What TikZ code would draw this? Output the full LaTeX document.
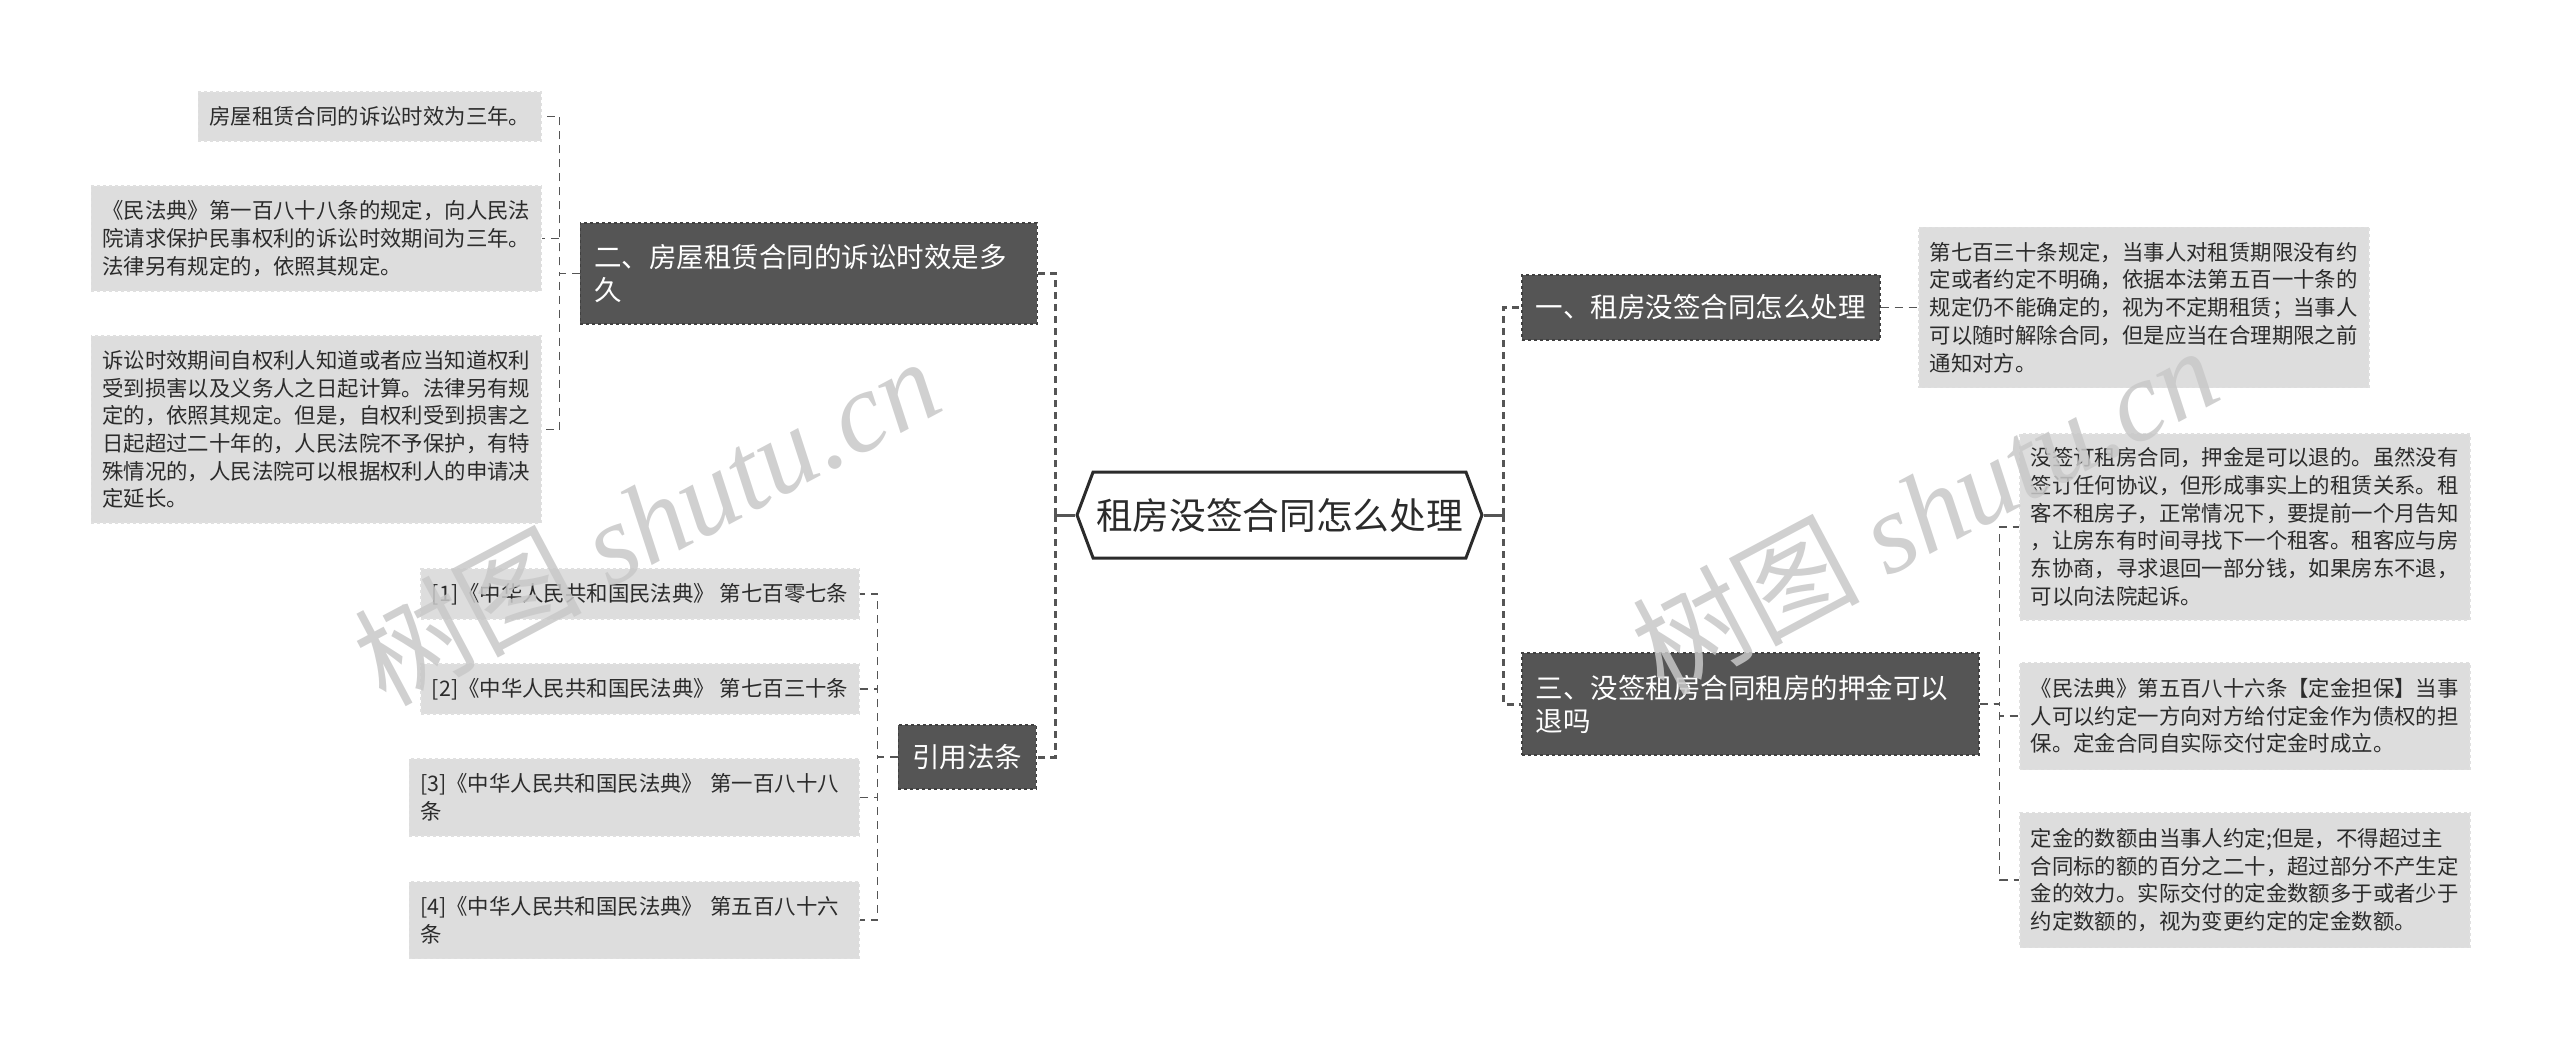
\documentclass[tikz,border=0pt]{standalone}
\usepackage{fontspec}
\setmainfont{Noto Sans CJK SC}
\newfontfamily\latinserif{Liberation Serif}
\usetikzlibrary{shapes.symbols}
\definecolor{fondbranche}{HTML}{555555}
\definecolor{fondfeuille}{HTML}{DDDDDD}
\definecolor{texte}{HTML}{2B2B2B}
\definecolor{trait}{HTML}{555555}
\definecolor{filig}{HTML}{C8C8C8}
\tikzstyle{racine}=[shape=signal,signal to=west and east,signal pointer angle=139,
draw=texte,line width=3pt,fill=white,text=texte,
font=\fontsize{36.7pt}{44pt}\selectfont,minimum width=405pt,minimum height=86pt,inner sep=0pt]
\tikzstyle{branche}=[rectangle,draw=black!75,dashed,line width=1.5pt,
fill=fondbranche,text=white,font=\fontsize{27.5pt}{33pt}\selectfont,
align=left,inner xsep=14pt,inner ysep=0pt]
\tikzstyle{feuille}=[rectangle,draw=white!88!black,dashed,line width=1.5pt,
fill=fondfeuille,text=texte,font=\fontsize{21.4pt}{27.7pt}\selectfont,
align=left,inner xsep=11pt,inner ysep=0pt]
\tikzstyle{tronc}=[draw=trait,line width=3pt]
\tikzstyle{pointille}=[dash pattern=on 7pt off 5pt]
\tikzstyle{lien}=[draw=trait,line width=1.8pt,dash pattern=on 8pt off 6pt]
\tikzstyle{filigrane}=[text=filig,text opacity=0.85,font=\fontsize{114pt}{114pt}\selectfont,rotate=28]

\begin{document}
\begin{tikzpicture}[x=1pt,y=-1pt]
\useasboundingbox (0,0) rectangle (2560,1051);
\node[racine] (R) at (1279.5,515) {租房没签合同怎么处理};

\node[branche,anchor=east,text width=429pt,minimum height=101pt] (B2) at (1038,273.5) {二、房屋租赁合同的诉讼时效是多\\久};
\node[feuille,anchor=east,minimum height=49pt] (L1) at (542,116.5) {房屋租赁合同的诉讼时效为三年。};
\node[feuille,anchor=east,minimum height=105pt] (L2) at (542,238.5) {《民法典》第一百八十八条的规定，向人民法\\院请求保护民事权利的诉讼时效期间为三年。\\法律另有规定的，依照其规定。};
\node[feuille,anchor=east,minimum height=187pt] (L3) at (542,429.5) {诉讼时效期间自权利人知道或者应当知道权利\\受到损害以及义务人之日起计算。法律另有规\\定的，依照其规定。但是，自权利受到损害之\\日起超过二十年的，人民法院不予保护，有特\\殊情况的，人民法院可以根据权利人的申请决\\定延长。};

\node[branche,anchor=east,minimum height=64pt] (C) at (1037,757) {引用法条};
\node[feuille,anchor=east,minimum height=50pt] (C1) at (860,594) {[1]《中华人民共和国民法典》 第七百零七条};
\node[feuille,anchor=east,minimum height=50pt] (C2) at (860,689) {[2]《中华人民共和国民法典》 第七百三十条};
\node[feuille,anchor=east,text width=428pt,minimum height=77pt] (C3) at (860,797.5) {[3]《中华人民共和国民法典》 第一百八十八\\条};
\node[feuille,anchor=east,text width=428pt,minimum height=77pt] (C4) at (860,920) {[4]《中华人民共和国民法典》 第五百八十六\\条};

\node[branche,anchor=west,minimum height=65pt] (B1) at (1521,307.5) {一、租房没签合同怎么处理};
\node[feuille,anchor=west,minimum height=160pt] (R1) at (1918,307.5) {第七百三十条规定，当事人对租赁期限没有约\\定或者约定不明确，依据本法第五百一十条的\\规定仍不能确定的，视为不定期租赁；当事人\\可以随时解除合同，但是应当在合理期限之前\\通知对方。};

\node[branche,anchor=west,text width=429pt,minimum height=102pt] (B3) at (1521,704) {三、没签租房合同租房的押金可以\\退吗};
\node[feuille,anchor=west,minimum height=186pt] (R2) at (2019,527) {没签订租房合同，押金是可以退的。虽然没有\\签订任何协议，但形成事实上的租赁关系。租\\客不租房子，正常情况下，要提前一个月告知\\，让房东有时间寻找下一个租客。租客应与房\\东协商，寻求退回一部分钱，如果房东不退，\\可以向法院起诉。};
\node[feuille,anchor=west,minimum height=107pt] (R3) at (2019,716) {《民法典》第五百八十六条【定金担保】当事\\人可以约定一方向对方给付定金作为债权的担\\保。定金合同自实际交付定金时成立。};
\node[feuille,anchor=west,minimum height=135pt] (R4) at (2019,880) {定金的数额由当事人约定;但是，不得超过主\\合同标的额的百分之二十，超过部分不产生定\\金的效力。实际交付的定金数额多于或者少于\\约定数额的，视为变更约定的定金数额。};

\draw[tronc] (R.west)--++(-20,0) coordinate (RG);
\draw[tronc] (R.east)--++(20,0) coordinate (RD);
\draw[tronc,pointille] (RG) |- (B2.east);
\draw[tronc,pointille] (RG) |- (C.east);
\draw[tronc,pointille] (RD) |- (B1.west);
\draw[tronc,pointille] (RD) |- (B3.west);

\draw[lien] (B2.west)--++(-20,0) |- (L1.east);
\draw[lien] (B2.west)--++(-20,0) |- (L2.east);
\draw[lien] (B2.west)--++(-20,0) |- (L3.east);
\draw[lien] (C.west)--++(-20,0) |- (C1.east);
\draw[lien] (C.west)--++(-20,0) |- (C2.east);
\draw[lien] (C.west)--++(-20,0) |- (C3.east);
\draw[lien] (C.west)--++(-20,0) |- (C4.east);
\draw[lien] (B1.east)--(R1.west);
\draw[lien] (B3.east)--++(20,0) |- (R2.west);
\draw[lien] (B3.east)--++(20,0) |- (R3.west);
\draw[lien] (B3.east)--++(20,0) |- (R4.west);

\node[filigrane] (W1) at (646,520) {树图 {\latinserif\itshape shutu.cn}};
\node[filigrane] (W2) at (1924,509) {树图 {\latinserif\itshape shutu.cn}};
\end{tikzpicture}
\end{document}
